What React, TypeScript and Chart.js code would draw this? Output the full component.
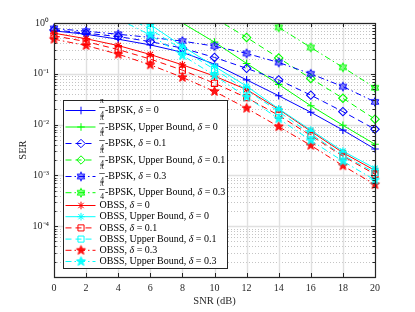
import React, { useEffect, useRef } from 'react';
import { Chart, registerables } from 'chart.js';

Chart.register(...registerables);

// ---------------- data ----------------
const snrDb = [0, 2, 4, 6, 8, 10, 12, 14, 16, 18, 20];

const bpskDelta0 = [0.7, 0.6, 0.48, 0.37, 0.265, 0.155, 0.076, 0.037, 0.0175, 0.0078, 0.0033];
const bpskUbDelta0 = [9, 6.5, 4.2, 2.5, 1.0, 0.42, 0.16, 0.062, 0.0235, 0.0097, 0.0041];
const bpskDelta01 = [0.73, 0.63, 0.54, 0.43, 0.32, 0.21, 0.128, 0.076, 0.038, 0.018, 0.0081];
const bpskUbDelta01 = [12, 8, 5.5, 3.5, 2.2, 1.25, 0.52, 0.205, 0.081, 0.033, 0.0128];
const bpskDelta03 = [0.78, 0.69, 0.6, 0.52, 0.44, 0.35, 0.252, 0.167, 0.1, 0.056, 0.028];
const bpskUbDelta03 = [40, 28, 19, 12.5, 8, 4.8, 2.0, 0.82, 0.33, 0.134, 0.053];
const obssDelta0 = [0.63, 0.49, 0.36, 0.24, 0.15, 0.09, 0.049, 0.02, 0.0074, 0.0028, 0.00125];
const obssUbDelta0 = [6, 3.8, 2.0, 0.93, 0.35, 0.14, 0.057, 0.0205, 0.0078, 0.003, 0.00138];
const obssDelta01 = [0.56, 0.43, 0.3, 0.195, 0.118, 0.065, 0.034, 0.0152, 0.0061, 0.0024, 0.00105];
const obssUbDelta01 = [5, 3.0, 1.6, 0.75, 0.3, 0.122, 0.048, 0.018, 0.0065, 0.0025, 0.00114];
const obssDelta03 = [0.48, 0.36, 0.243, 0.15, 0.085, 0.045, 0.021, 0.0091, 0.0039, 0.00155, 0.00066];
const obssUbDelta03 = [4, 2.4, 1.2, 0.58, 0.23, 0.093, 0.035, 0.013, 0.0049, 0.0019, 0.00081];

const seriesLabels = [
  'π/4-BPSK, δ = 0',
  'π/4-BPSK, Upper Bound, δ = 0',
  'π/4-BPSK, δ = 0.1',
  'π/4-BPSK, Upper Bound, δ = 0.1',
  'π/4-BPSK, δ = 0.3',
  'π/4-BPSK, Upper Bound, δ = 0.3',
  'OBSS, δ = 0',
  'OBSS, Upper Bound, δ = 0',
  'OBSS, δ = 0.1',
  'OBSS, Upper Bound, δ = 0.1',
  'OBSS, δ = 0.3',
  'OBSS, Upper Bound, δ = 0.3',
];
const seriesValues = [
  bpskDelta0, bpskUbDelta0, bpskDelta01, bpskUbDelta01, bpskDelta03, bpskUbDelta03,
  obssDelta0, obssUbDelta0, obssDelta01, obssUbDelta01, obssDelta03, obssUbDelta03,
];

const yTickValues = [1e-5, 1e-4, 1e-3, 1e-2, 1e-1, 1];
const xTickStep = 2;

// ---------------- styles ----------------
const FONT = '"Liberation Serif", "Times New Roman", serif';
const BLUE = '#0000ff';
const GREEN = '#00ff00';
const RED = '#ff0000';
const CYAN = '#00ffff';
const SOLID: number[] = [];
const DASH = [6, 4];
const DASHDOT = [6, 3, 1.5, 3];

const seriesStyles = [
  { color: BLUE, dash: SOLID, marker: 'cross' },
  { color: GREEN, dash: SOLID, marker: 'cross' },
  { color: BLUE, dash: DASH, marker: 'rectRot' },
  { color: GREEN, dash: DASH, marker: 'rectRot' },
  { color: BLUE, dash: DASHDOT, marker: 'hexagram' },
  { color: GREEN, dash: DASHDOT, marker: 'hexagram' },
  { color: RED, dash: SOLID, marker: 'star' },
  { color: CYAN, dash: SOLID, marker: 'star' },
  { color: RED, dash: DASH, marker: 'rect' },
  { color: CYAN, dash: DASH, marker: 'rect' },
  { color: RED, dash: DASHDOT, marker: 'pentagram' },
  { color: CYAN, dash: DASHDOT, marker: 'pentagram' },
];

function starCanvas(n: number, outer: number, innerRatio: number, color: string, fillAlpha: number): HTMLCanvasElement {
  const size = Math.ceil(outer * 2 + 3);
  const c = document.createElement('canvas');
  c.width = size;
  c.height = size;
  const g = c.getContext('2d')!;
  g.translate(size / 2, size / 2);
  g.beginPath();
  for (let i = 0; i < 2 * n; i++) {
    const r = i % 2 === 0 ? outer : outer * innerRatio;
    const a = -Math.PI / 2 + (i * Math.PI) / n;
    const px = r * Math.cos(a);
    const py = r * Math.sin(a);
    if (i === 0) g.moveTo(px, py);
    else g.lineTo(px, py);
  }
  g.closePath();
  if (fillAlpha > 0) {
    g.globalAlpha = fillAlpha;
    g.fillStyle = color;
    g.fill();
    g.globalAlpha = 1;
  }
  g.lineWidth = 1;
  g.strokeStyle = color;
  g.stroke();
  return c;
}

const SUP: Record<string, string> = { '0': '⁰', '1': '¹', '2': '²', '3': '³', '4': '⁴', '5': '⁵', '-': '⁻' };
function powLabel(v: number): string {
  const e = Math.round(Math.log10(v));
  return '10' + String(e).split('').map((ch) => SUP[ch] || ch).join('');
}

function markerRadius(m: string): number {
  if (m === 'cross') return 3.8;
  if (m === 'rectRot') return 4.2;
  if (m === 'rect') return 4.3;
  if (m === 'star') return 3.8;
  return 4.5;
}

function drawLegendMarker(ctx: CanvasRenderingContext2D, style: any, x: number, y: number, r: number, color: string) {
  ctx.save();
  ctx.strokeStyle = color;
  ctx.lineWidth = 1;
  ctx.setLineDash([]);
  ctx.beginPath();
  if (typeof style !== 'string') {
    ctx.drawImage(style, x - style.width / 2, y - style.height / 2);
    ctx.restore();
    return;
  }
  if (style === 'cross' || style === 'star') {
    ctx.moveTo(x - r, y);
    ctx.lineTo(x + r, y);
    ctx.moveTo(x, y - r);
    ctx.lineTo(x, y + r);
    if (style === 'star') {
      const d = r * Math.SQRT1_2;
      ctx.moveTo(x - d, y - d);
      ctx.lineTo(x + d, y + d);
      ctx.moveTo(x - d, y + d);
      ctx.lineTo(x + d, y - d);
    }
  } else if (style === 'rectRot') {
    ctx.moveTo(x, y - r);
    ctx.lineTo(x + r, y);
    ctx.lineTo(x, y + r);
    ctx.lineTo(x - r, y);
    ctx.closePath();
  } else if (style === 'rect') {
    const h = r * Math.SQRT1_2;
    ctx.rect(x - h, y - h, 2 * h, 2 * h);
  }
  ctx.stroke();
  ctx.restore();
}

function drawLabelText(ctx: CanvasRenderingContext2D, label: string, x: number, y: number) {
  ctx.fillStyle = '#000';
  ctx.textBaseline = 'middle';
  ctx.textAlign = 'left';
  let rest = label;
  let cx = x;
  if (rest.startsWith('π/4')) {
    rest = rest.slice(3);
    const fx = x + 2.5;
    ctx.font = `7.5px ${FONT}`;
    ctx.textAlign = 'center';
    ctx.fillText('π', fx, y - 9);
    ctx.fillText('4', fx, y + 4.5);
    ctx.fillRect(fx - 2.8, y - 3.5, 5.6, 0.6);
    ctx.textAlign = 'left';
    cx = x + 5.5;
  }
  const idx = rest.indexOf('δ');
  const before = idx >= 0 ? rest.slice(0, idx) : rest;
  const after = idx >= 0 ? rest.slice(idx + 1) : '';
  ctx.font = `10px ${FONT}`;
  ctx.fillText(before, cx, y);
  cx += ctx.measureText(before).width;
  if (idx >= 0) {
    ctx.font = `italic 10px ${FONT}`;
    ctx.fillText('δ', cx, y);
    cx += ctx.measureText('δ').width;
    ctx.font = `10px ${FONT}`;
    ctx.fillText(after, cx, y);
  }
}

const legendRowOffsets = [10, 26.5, 43, 59.5, 76, 92.2, 105, 116.2, 127.4, 138.6, 149.8, 161];

const matlabAxesPlugin = {
  id: 'matlabAxes',
  beforeDatasetsDraw(chart: any) {
    const { ctx, chartArea: a, scales } = chart;
    const x = scales.x;
    const y = scales.y;
    ctx.save();
    ctx.lineWidth = 1;
    ctx.strokeStyle = '#c4c4c4';
    ctx.setLineDash([1, 2]);
    ctx.beginPath();
    for (let e = -5; e < 0; e++) {
      for (let k = 2; k <= 9; k++) {
        const py = Math.round(y.getPixelForValue(k * Math.pow(10, e))) + 0.5;
        ctx.moveTo(a.left, py);
        ctx.lineTo(a.right, py);
      }
    }
    ctx.stroke();
    ctx.setLineDash([]);
    ctx.strokeStyle = '#e0e0e0';
    ctx.lineWidth = 1.4;
    ctx.beginPath();
    for (let v = xTickStep; v < 20; v += xTickStep) {
      const px = Math.round(x.getPixelForValue(v)) + 0.5;
      ctx.moveTo(px, a.top);
      ctx.lineTo(px, a.bottom);
    }
    for (const v of yTickValues) {
      const py = Math.round(y.getPixelForValue(v)) + 0.5;
      ctx.moveTo(a.left, py);
      ctx.lineTo(a.right, py);
    }
    ctx.stroke();
    ctx.restore();
  },
  afterDatasetsDraw(chart: any) {
    const { ctx, chartArea: a, scales } = chart;
    const x = scales.x;
    const y = scales.y;
    ctx.save();
    ctx.strokeStyle = '#262626';
    ctx.lineWidth = 1;
    ctx.beginPath();
    for (let v = 0; v <= 20; v += xTickStep) {
      const px = Math.round(x.getPixelForValue(v)) + 0.5;
      ctx.moveTo(px, a.bottom);
      ctx.lineTo(px, a.bottom - 4);
      ctx.moveTo(px, a.top);
      ctx.lineTo(px, a.top + 4);
    }
    for (let e = -5; e <= 0; e++) {
      for (let k = 1; k <= 9; k++) {
        const val = k * Math.pow(10, e);
        if (val > 1) break;
        const py = Math.round(y.getPixelForValue(val)) + 0.5;
        const len = k === 1 ? 4 : 2.5;
        ctx.moveTo(a.left, py);
        ctx.lineTo(a.left + len, py);
        ctx.moveTo(a.right, py);
        ctx.lineTo(a.right - len, py);
      }
    }
    ctx.stroke();
    ctx.lineWidth = 1.2;
    ctx.strokeRect(Math.round(a.left) + 0.5, Math.round(a.top) + 0.5, Math.round(a.right - a.left), Math.round(a.bottom - a.top));
    ctx.restore();
  },
  afterDraw(chart: any) {
    const { ctx, chartArea: a } = chart;
    const bx = Math.round(a.left) + 9.5;
    const by = Math.round(a.top) + 77.5;
    const bw = 164;
    const bh = 168;
    ctx.save();
    ctx.fillStyle = '#ffffff';
    ctx.fillRect(bx, by, bw, bh);
    ctx.strokeStyle = '#262626';
    ctx.lineWidth = 1;
    ctx.strokeRect(bx, by, bw, bh);
    chart.data.datasets.forEach((ds: any, i: number) => {
      const yy = by + legendRowOffsets[i];
      ctx.save();
      ctx.strokeStyle = ds.borderColor;
      ctx.lineWidth = 1;
      ctx.setLineDash(ds.borderDash || []);
      ctx.beginPath();
      ctx.moveTo(bx + 2, yy);
      ctx.lineTo(bx + 32, yy);
      ctx.stroke();
      ctx.restore();
      drawLegendMarker(ctx, ds.pointStyle, bx + 17.5, yy, ds.pointRadius, ds.borderColor);
      drawLabelText(ctx, ds.label, bx + 36, yy);
    });
    ctx.restore();
  },
};

export default function App() {
  const canvasRef = useRef<HTMLCanvasElement | null>(null);

  useEffect(() => {
    const canvas = canvasRef.current;
    if (!canvas) return;
    const datasets = seriesValues.map((vals, i) => {
      const st = seriesStyles[i];
      let pointStyle: any = st.marker;
      if (st.marker === 'hexagram') pointStyle = starCanvas(6, 4.4, 0.577, st.color, 0.45);
      if (st.marker === 'pentagram') pointStyle = starCanvas(5, 4.8, 0.42, st.color, 0.9);
      return {
        label: seriesLabels[i],
        data: snrDb.map((s, j) => ({ x: s, y: vals[j] })),
        borderColor: st.color,
        backgroundColor: 'rgba(0,0,0,0)',
        borderWidth: 1,
        borderDash: st.dash,
        pointStyle,
        pointRadius: markerRadius(st.marker),
        pointBorderColor: st.color,
        pointBackgroundColor: 'rgba(0,0,0,0)',
        pointBorderWidth: 1.1,
        tension: 0,
        fill: false,
        order: -i,
        clip: { left: 8, right: 8, top: 0, bottom: 0 },
      };
    });

    const chart = new Chart(canvas, {
      type: 'line',
      data: { datasets },
      options: {
        animation: false,
        responsive: false,
        events: [],
        layout: { padding: { left: 0, top: 23, right: 40, bottom: 0 } },
        plugins: { legend: { display: false }, tooltip: { enabled: false } },
        scales: {
          x: {
            type: 'linear',
            min: 0,
            max: 20,
            afterFit: (s: any) => { s.height = 35; },
            ticks: { stepSize: xTickStep, color: '#262626', font: { family: FONT, size: 10 }, padding: 5, maxRotation: 0 },
            grid: { display: false, drawTicks: false },
            border: { display: false },
            title: { display: true, text: 'SNR (dB)', color: '#262626', font: { family: FONT, size: 10.5 }, padding: { top: 0, bottom: 4 } },
          },
          y: {
            type: 'logarithmic',
            min: 1e-5,
            max: 1,
            afterFit: (s: any) => { s.width = 54; },
            afterBuildTicks: (s: any) => { s.ticks = yTickValues.map((v) => ({ value: v })); },
            ticks: {
              autoSkip: false,
              color: '#262626',
              font: { family: FONT, size: 10 },
              padding: 5,
              callback: (v: any) => (Number(v) < 5e-5 ? '' : powLabel(Number(v))),
            },
            grid: { display: false, drawTicks: false },
            border: { display: false },
            title: { display: true, text: 'SER', color: '#262626', font: { family: FONT, size: 10.5 }, padding: { top: 17, bottom: 0 } },
          },
        },
      },
      plugins: [matlabAxesPlugin],
    } as any);
    return () => chart.destroy();
  }, []);

  return (
    <div style={{ position: 'absolute', left: 0, top: 0, width: 415, height: 312, background: '#fff' }}>
      <canvas ref={canvasRef} width={415} height={312} style={{ display: 'block' }} />
    </div>
  );
}
